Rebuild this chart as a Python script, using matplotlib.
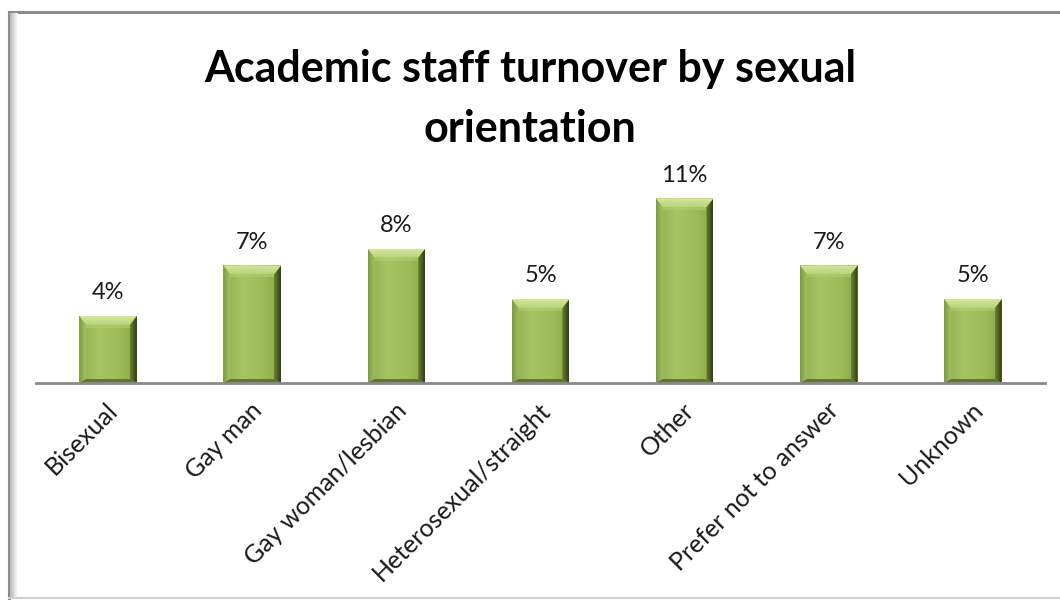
import numpy as np
import matplotlib
matplotlib.use("Agg")
import matplotlib.pyplot as plt
import matplotlib.transforms as mtransforms
from matplotlib.lines import Line2D
from matplotlib.patches import Polygon, Rectangle
from matplotlib.colors import LinearSegmentedColormap

categories = ["Bisexual", "Gay man", "Gay woman/lesbian", "Heterosexual/straight",
              "Other", "Prefer not to answer", "Unknown"]
turnover_pct = [4, 7, 8, 5, 11, 7, 5]
title = "Academic staff turnover by sexual\norientation"

plt.rcParams['font.family'] = ['Lato', 'DejaVu Sans']

W, H = 1060, 600
fig = plt.figure(figsize=(W / 100, H / 100), dpi=100)
fig.patch.set_facecolor('white')

# chart frame (left, top, bottom) with a soft inner shadow on the left edge
frame_kw = dict(transform=fig.transFigure, color='#8c8c8c', lw=2.2, zorder=0)
fig.add_artist(Line2D([8.5 / W, 8.5 / W], [2 / H, 1 - 12 / H], **frame_kw))
fig.add_artist(Line2D([8.5 / W, 1.0], [1 - 12 / H, 1 - 12 / H], **frame_kw))
fig.add_artist(Line2D([8.5 / W, 1.0], [2 / H, 2 / H],
                      transform=fig.transFigure, color='#d0d0d0', lw=1.5, zorder=0))
shadow_ax = fig.add_axes([9.5 / W, 3 / H, 8 / W, 1 - 16 / H])
shadow_ax.imshow(np.linspace(0, 1, 32)[None, :],
                 cmap=LinearSegmentedColormap.from_list('sh', ['#b8b8b8', '#ffffff']),
                 aspect='auto', extent=[0, 1, 0, 1])
shadow_ax.axis('off')

ymax = 12
ax = fig.add_axes([36 / W, 1 - 383 / H, (1045 - 36) / W, ymax * 16.8 / H])
x = np.arange(len(categories))
bars = ax.bar(x, turnover_pct, width=0.4, color='#9bbb59', zorder=2, linewidth=0)
ax.set_xlim(-0.5, len(categories) - 0.5)
ax.set_ylim(0, ymax)

# pixel -> data conversion for the bevel sizes
ax_w_px = (1045 - 36)
ax_h_px = ymax * 16.8
px_x = (len(categories)) / ax_w_px
px_y = ymax / ax_h_px

face_cmap = LinearSegmentedColormap.from_list('face', ['#8fae4d', '#a6c463', '#9ebd5a', '#8aa748'])
top_cmap = LinearSegmentedColormap.from_list('top', ['#b7d27a', '#d4e8a0'])
right_cmap = LinearSegmentedColormap.from_list('right', ['#6a8430', '#2f3c10'])
left_cmap = LinearSegmentedColormap.from_list('left', ['#7e9a3c', '#a3c064'])


def shaded(poly_pts, cmap, horizontal, ext):
    poly = Polygon(poly_pts, closed=True, facecolor='none', edgecolor='none',
                   transform=ax.transData)
    ax.add_patch(poly)
    grad = np.linspace(0, 1, 64)
    arr = grad[None, :] if horizontal else grad[:, None]
    im = ax.imshow(arr, cmap=cmap, aspect='auto', extent=ext, origin='lower',
                   zorder=3, interpolation='bilinear')
    im.set_clip_path(poly)


for b in bars:
    x0 = b.get_x()
    x1 = x0 + b.get_width()
    y1 = b.get_height()
    bx, bt, bb = 7 * px_x, 9 * px_y, 4 * px_y
    b.set_visible(False)

    # face
    shaded([(x0, 0), (x1, 0), (x1, y1), (x0, y1)], face_cmap, True, [x0, x1, 0, y1])
    # left side
    shaded([(x0, 0), (x0, y1), (x0 + bx, y1 - bt), (x0 + bx, bb)], left_cmap, True,
           [x0, x0 + bx, 0, y1])
    # right side
    shaded([(x1, 0), (x1, y1), (x1 - bx, y1 - bt), (x1 - bx, bb)], right_cmap, True,
           [x1 - bx, x1, 0, y1])
    # top bevel
    shaded([(x0, y1), (x1, y1), (x1 - bx, y1 - bt), (x0 + bx, y1 - bt)], top_cmap, False,
           [x0, x1, y1 - bt, y1])
    # bottom bevel
    ax.add_patch(Polygon([(x0, 0), (x1, 0), (x1 - bx, bb), (x0 + bx, bb)], closed=True,
                         facecolor='#5f7829', edgecolor='none', zorder=4))
    # highlight band below the top bevel
    ax.add_patch(Rectangle((x0 + bx, y1 - bt - 3 * px_y), x1 - x0 - 2 * bx, 3 * px_y,
                           facecolor='#b3cf72', edgecolor='none', alpha=0.6, zorder=4))

for xi, v in zip(x, turnover_pct):
    ax.annotate(f"{v}%", (xi, v), xytext=(0, 9), textcoords='offset points',
                ha='center', va='bottom', fontsize=17, color='#1a1a1a')

ax.set_xticks(x, categories, rotation=45, ha='right', rotation_mode='anchor',
              fontsize=18, color='#1a1a1a')
ax.tick_params(axis='x', length=0, pad=11)
shift = mtransforms.ScaledTranslation(-2 / 100, 0, fig.dpi_scale_trans)
for lbl in ax.get_xticklabels():
    lbl.set_transform(lbl.get_transform() + shift)
ax.set_yticks([])
for s in ['top', 'right', 'left']:
    ax.spines[s].set_visible(False)
ax.spines['bottom'].set_color('#8a8a8a')
ax.spines['bottom'].set_linewidth(2)
ax.spines['bottom'].set_zorder(5)
ax.set_facecolor('none')

fig.text(530 / W, 1 - 99 / H, title, ha='center', va='center', fontsize=31,
         fontweight='bold', color='black', linespacing=1.6)

fig.savefig('out.png', dpi=100)
